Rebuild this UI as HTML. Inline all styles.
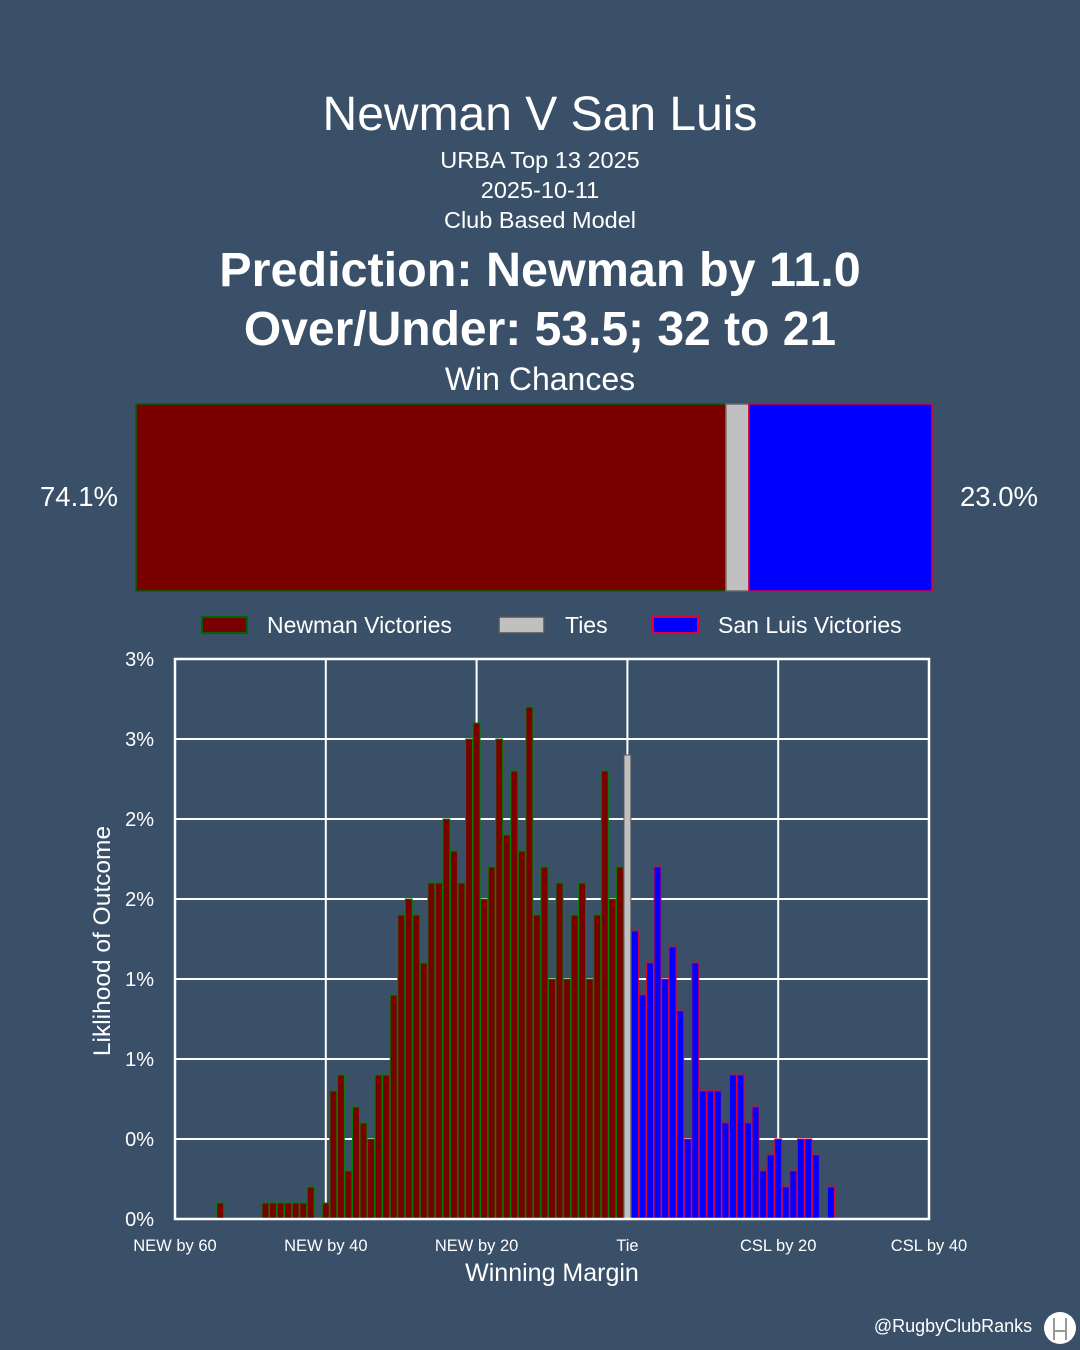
<!DOCTYPE html>
<html><head><meta charset="utf-8"><style>
html,body{margin:0;padding:0;background:#3a5069;}
svg{display:block;font-family:"Liberation Sans",Arial,sans-serif;}
</style></head><body>
<svg id="chart" width="1080" height="1350" viewBox="0 0 1080 1350" xmlns="http://www.w3.org/2000/svg">
<rect x="0" y="0" width="1080" height="1350" fill="#3a5069"/>
<text x="540" y="130" text-anchor="middle" font-size="48" fill="#fff">Newman V San Luis</text>
<text x="540" y="168" text-anchor="middle" font-size="23.5" fill="#fff">URBA Top 13 2025</text>
<text x="540" y="198" text-anchor="middle" font-size="23.5" fill="#fff">2025-10-11</text>
<text x="540" y="228" text-anchor="middle" font-size="23.5" fill="#fff">Club Based Model</text>
<text x="540" y="286" text-anchor="middle" font-size="48.5" font-weight="bold" fill="#fff">Prediction: Newman by 11.0</text>
<text x="540" y="345" text-anchor="middle" font-size="48" font-weight="bold" fill="#fff">Over/Under: 53.5; 32 to 21</text>
<text x="540" y="390" text-anchor="middle" font-size="32" fill="#fff">Win Chances</text>
<g id="winbar"></g>
<text x="79" y="506" text-anchor="middle" font-size="27.5" fill="#fff">74.1%</text>
<text x="999" y="506" text-anchor="middle" font-size="27.5" fill="#fff">23.0%</text>
<g>
  <g><rect x="202" y="617" width="45" height="16" fill="#7a0000" stroke="#006400" stroke-width="2"/><text x="267" y="633" font-size="23" fill="#fff">Newman Victories</text></g>
  <g><rect x="499" y="617" width="45" height="16" fill="#c0c0c0" stroke="#555" stroke-width="1.5"/><text x="565" y="633" font-size="23" fill="#fff">Ties</text></g>
  <g><rect x="653" y="617" width="45" height="16" fill="#0000ff" stroke="#e0003a" stroke-width="2"/><text x="718" y="633" font-size="23" fill="#fff">San Luis Victories</text></g>
</g>
<g id="plot"></g>
<text transform="translate(110,941) rotate(-90)" text-anchor="middle" font-size="24.5" fill="#fff">Liklihood of Outcome</text>
<text x="552" y="1281" text-anchor="middle" font-size="25" fill="#fff">Winning Margin</text>
<text x="953" y="1332" text-anchor="middle" font-size="18" fill="#fff">@RugbyClubRanks</text>
<g><circle cx="1060" cy="1328" r="16" fill="#fff"/><path d="M1054 1318 V1340 M1066 1318 V1340 M1054 1331 H1066" stroke="#999" stroke-width="2" fill="none"/></g>
</svg>
<script>
const winLabels = ["Newman", "Tie", "San Luis"];
const winPcts = [74.1, 2.9, 23.0];
const yTicks = [0, 0.5, 1, 1.5, 2, 2.5, 3, 3.5];
const yTickLabels = ["0%", "0%", "1%", "1%", "2%", "2%", "3%", "3%"];
const xTicks = [-60, -40, -20, 0, 20, 40];
const xTickLabels = ["NEW by 60", "NEW by 40", "NEW by 20", "Tie", "CSL by 20", "CSL by 40"];
const newmanMargins = [-54,-48,-47,-46,-45,-44,-43,-42,-40,-39,-38,-37,-36,-35,-34,-33,-32,-31,-30,-29,-28,-27,-26,-25,-24,-23,-22,-21,-20,-19,-18,-17,-16,-15,-14,-13,-12,-11,-10,-9,-8,-7,-6,-5,-4,-3,-2,-1];
const newmanValues = [0.1,0.1,0.1,0.1,0.1,0.1,0.1,0.2,0.1,0.8,0.9,0.3,0.7,0.6,0.5,0.9,0.9,1.4,1.9,2.0,1.9,1.6,2.1,2.1,2.5,2.3,2.1,3.0,3.1,2.0,2.2,3.0,2.4,2.8,2.3,3.2,1.9,2.2,1.5,2.1,1.5,1.9,2.1,1.5,1.9,2.8,2.0,2.2];
const tieMargins = [0];
const tieValues = [2.9];
const sanluisMargins = [1,2,3,4,5,6,7,8,9,10,11,12,13,14,15,16,17,18,19,20,21,22,23,24,25,27];
const sanluisValues = [1.8,1.4,1.6,2.2,1.5,1.7,1.3,0.5,1.6,0.8,0.8,0.8,0.6,0.9,0.9,0.6,0.7,0.3,0.4,0.5,0.2,0.3,0.5,0.5,0.4,0.2];

const NS = "http://www.w3.org/2000/svg";
function mk(tag, attrs, parent) {
  const e = document.createElementNS(NS, tag);
  for (const k in attrs) e.setAttribute(k, attrs[k]);
  parent.appendChild(e);
  return e;
}
const wb = document.getElementById('winbar');
const wbX = 136, wbW = 796, wbY = 404, wbH = 187;
const wbFill = ["#7a0000", "#c0c0c0", "#0000ff"], wbStroke = ["#006400", "#666", "#e0003a"];
let acc = 0;
const total = winPcts.reduce((a, b) => a + b, 0);
winPcts.forEach((p, i) => {
  const x = wbX + acc / total * wbW, w = p / total * wbW;
  acc += p;
  const r = mk('rect', {x: x, y: wbY, width: w, height: wbH, fill: wbFill[i], stroke: wbStroke[i], 'stroke-width': 1.5}, wb);
  
  
});
const g = document.getElementById('plot');
const L = 175, R = 929, T = 659, B = 1219;
const xMin = -60, xMax = 40, yMax = 3.5;
const xs = v => L + (v - xMin) / (xMax - xMin) * (R - L);
const ys = v => B - v / yMax * (B - T);
yTicks.forEach((t, i) => {
  const ln = mk('line', {x1: L, x2: R, y1: ys(t), y2: ys(t), stroke: '#fff', 'stroke-width': 2}, g);
  
  
  const tx = mk('text', {x: 154, y: ys(t) + 7, 'text-anchor': 'end', 'font-size': 20, fill: '#fff'}, g);
  tx.textContent = yTickLabels[i];
  
  
});
xTicks.forEach((t, i) => {
  const ln = mk('line', {x1: xs(t), x2: xs(t), y1: T, y2: B, stroke: '#fff', 'stroke-width': 2}, g);
  
  
  const tx = mk('text', {x: xs(t), y: 1251, 'text-anchor': 'middle', 'font-size': 16.5, fill: '#fff'}, g);
  tx.textContent = xTickLabels[i];
  
  
});
const bw = (R - L) / (xMax - xMin);
function bars(m, v, fill, stroke, name) {
  m.forEach((mm, i) => {
    const r = mk('rect', {x: xs(mm) - bw / 2 + 0.3, y: ys(v[i]), width: bw - 0.6, height: B - ys(v[i]), fill: fill, stroke: stroke, 'stroke-width': 1}, g);
    
    
  });
}
bars(newmanMargins, newmanValues, '#7a0000', '#008000', 'bar-newman');
bars(tieMargins, tieValues, '#c0c0c0', '#555', 'bar-tie');
bars(sanluisMargins, sanluisValues, '#0000ff', '#e0003a', 'bar-sanluis');
const fr = mk('rect', {x: L, y: T, width: R - L, height: B - T, fill: 'none', stroke: '#fff', 'stroke-width': 2.5}, g);


</script>
</body></html>
